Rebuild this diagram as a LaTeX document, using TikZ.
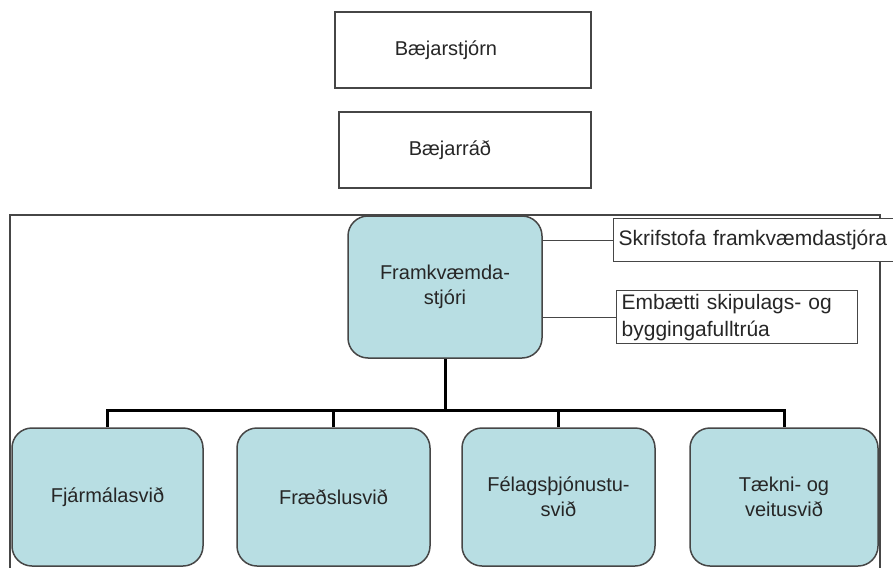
\documentclass[tikz,border=0pt]{standalone}
\usepackage{fontspec}
\setmainfont{Liberation Sans}
\definecolor{boxblue}{RGB}{184,222,227}
\definecolor{edgegray}{RGB}{70,70,70}
\tikzset{
	plainbox/.style={draw=edgegray, line width=1.3pt, fill=white, inner sep=0pt},
	unitbox/.style={draw=edgegray, line width=1.5pt, fill=boxblue, rounded corners=20pt, align=center, inner sep=0pt},
	thinlink/.style={draw=edgegray, line width=1pt},
	treelink/.style={draw=black, line width=3pt},
}
\begin{document}
\begin{tikzpicture}[x=1pt,y=-1pt]
	\tikzstyle{every node}=[font=\fontsize{20}{25}\selectfont, text=black!85]
	\clip (0,0) rectangle (893,567);
	\fill [white] (0,0) rectangle (893,567);
	\draw [edgegray, line width=1.3pt] (10,215) rectangle (880,600);
	
	\node [plainbox, minimum width=256pt, minimum height=76pt] (bst) at (463,50) {Bæjarstjórn\hspace*{34pt}};
	\node [plainbox, minimum width=252pt, minimum height=76pt] (brad) at (465,150) {Bæjarráð\hspace*{30pt}};
	
	\node [unitbox, minimum width=194pt, minimum height=142pt] (fks) at (445,287) {Framkvæmda-\\stjóri};
	
	\node [plainbox, anchor=north west, text width=280pt, inner xsep=5pt, minimum height=43pt, align=left, font=\fontsize{21}{26}\selectfont] (skr) at (613,218) {Skrifstofa framkvæmdastjóra};
	\node [plainbox, anchor=north west, text width=231pt, inner xsep=5pt, minimum height=53pt, align=left, font=\fontsize{21}{27}\selectfont] (emb) at (616,290) {Embætti skipulags- og\\byggingafulltrúa};
	\draw [thinlink] (skr.west) -- (skr.west -| fks.east);
	\draw [thinlink] (emb.west) -- (emb.west -| fks.east);
	
	\foreach \x/\w/\name/\txt in {107.5/191/fin/Fjármálasvið, 333.5/193/fra/Fræðslusvið, 558.5/193/fel/{Félagsþjónustu-\\svið}, 784/188/tek/{Tækni- og\\veitusvið}}
	\node [unitbox, minimum width=\w pt, minimum height=138pt] (\name) at (\x,497) {\txt};
	
	\coordinate (busy) at (0,410);
	\draw [treelink] (fks.south) -- (fks.south |- busy);
	\draw [treelink] (fin.north) -- (fin.north |- busy) -- (tek.north |- busy) -- (tek.north);
	\draw [treelink] (fra.north) -- (fra.north |- busy);
	\draw [treelink] (fel.north) -- (fel.north |- busy);
	%\draw [ultra thin] (bst) -- (brad);
\end{tikzpicture}
\end{document}
